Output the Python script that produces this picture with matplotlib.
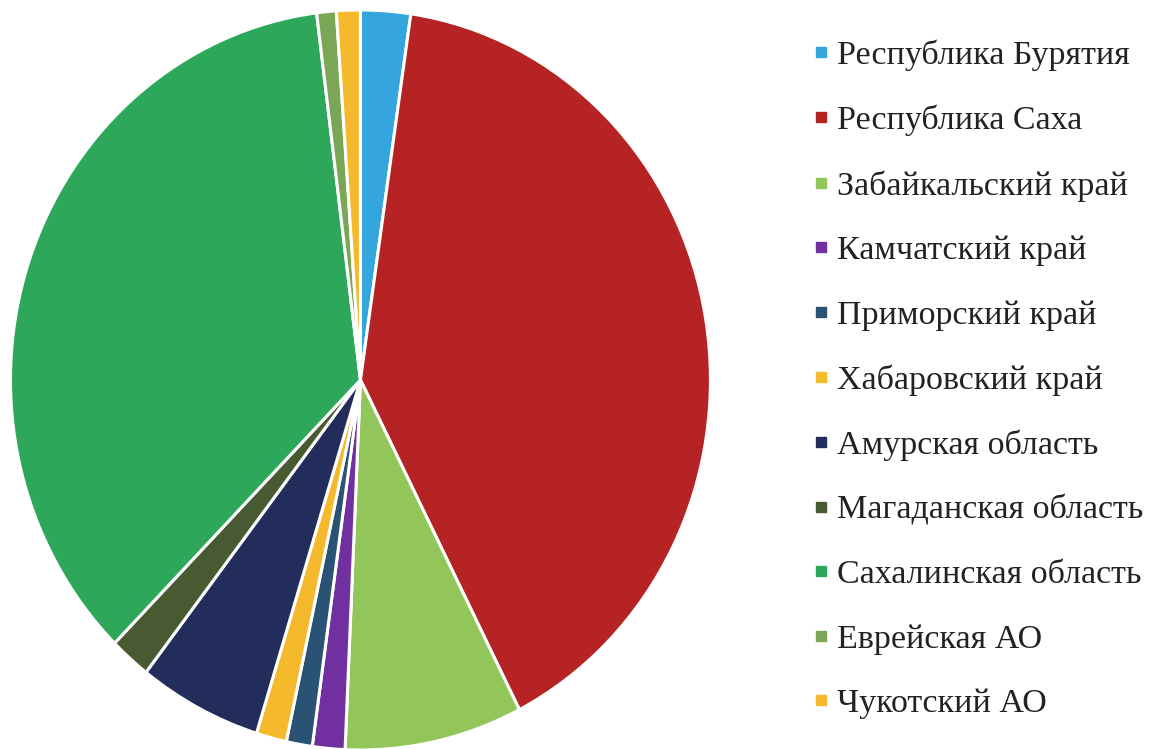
import matplotlib.pyplot as plt
from matplotlib.lines import Line2D

# === Data ===
REGIONS = [
    "Республика Бурятия",
    "Республика Саха",
    "Забайкальский край",
    "Камчатский край",
    "Приморский край",
    "Хабаровский край",
    "Амурская область",
    "Магаданская область",
    "Сахалинская область",
    "Еврейская АО",
    "Чукотский АО",
]
SHARES = [2.3, 40.2, 8.2, 1.5, 1.2, 1.4, 5.7, 1.9, 35.6, 0.9, 1.1]
COLORS = [
    "#35A5DD", "#B62324", "#92C65A", "#7030A0", "#2A5275", "#F4BA2B",
    "#222D5C", "#485A32", "#2DA85A", "#7AA655", "#F4BA2B",
]

plt.rcParams["font.family"] = ["Liberation Serif", "DejaVu Serif"]

fig = plt.figure(figsize=(11.62, 7.49), dpi=100)
ax = fig.add_axes([0.009, -0.0013, 0.6024, 0.988])

ax.pie(SHARES, colors=COLORS, startangle=90, counterclock=False,
       wedgeprops=dict(edgecolor="white", linewidth=2.2))
ax.set_aspect("auto")
ax.set_xlim(-1, 1)
ax.set_ylim(-1, 1)

handles = [Line2D([0], [0], marker="s", linestyle="none", markersize=6.5,
                  markerfacecolor=c, markeredgecolor=c) for c in COLORS]
fig.legend(handles, REGIONS, loc="center left", bbox_to_anchor=(0.685, 0.4935),
           frameon=False, fontsize=24.5, labelspacing=0.99,
           handlelength=0.45, handletextpad=0.25, borderpad=0,
           labelcolor="#222222")

fig.savefig("out.png", dpi=100)
